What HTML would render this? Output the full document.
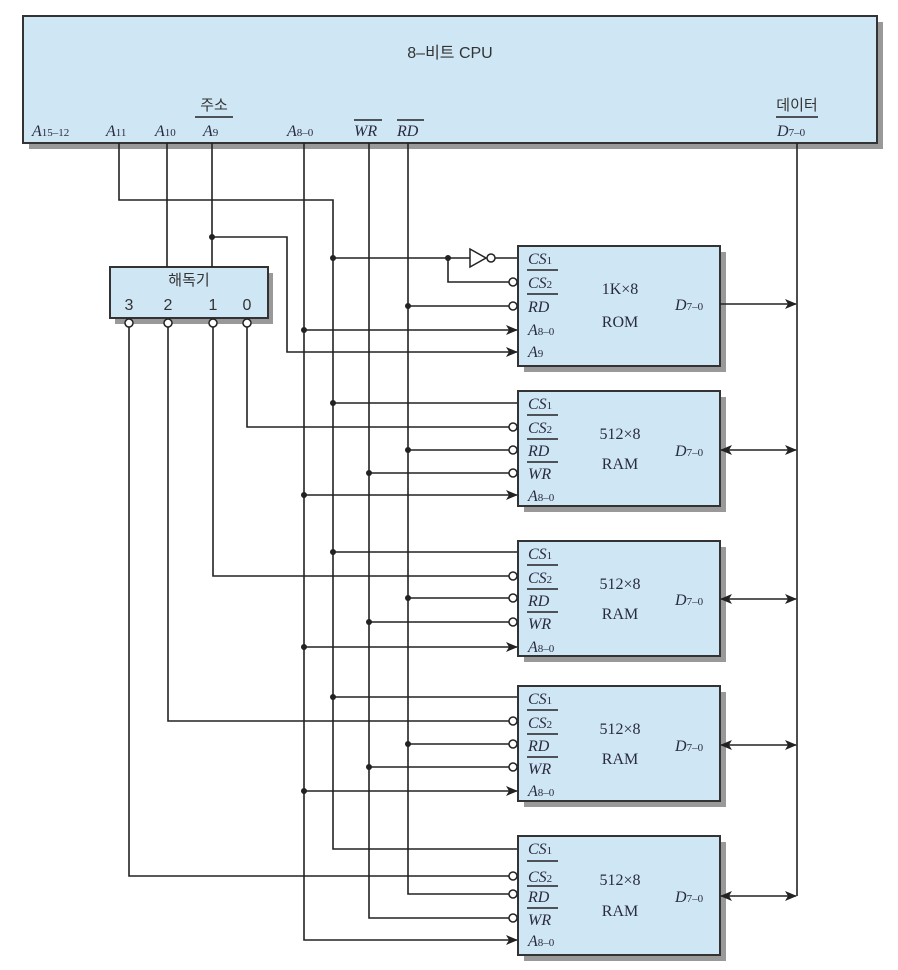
<!DOCTYPE html>
<html><head><meta charset="utf-8"><style>
html,body{margin:0;padding:0;background:#fff;}
svg{display:block;}
.l{stroke:#222;stroke-width:1.6;fill:none;}
.b{fill:#cfe7f5;stroke:#333;stroke-width:2;}
.s{fill:#999;}
.t{font-family:"Liberation Serif",serif;font-size:16px;fill:#2a2a40;}
.i{font-style:italic;}
.k{font-family:"Liberation Sans","Noto Sans CJK KR",sans-serif;font-size:15px;fill:#333;}
.bub{fill:#fff;stroke:#222;stroke-width:1.5;}
</style></head><body>
<svg width="898" height="970" viewBox="0 0 898 970" xmlns="http://www.w3.org/2000/svg">
<defs>
<marker id="ar" markerWidth="12" markerHeight="10" refX="11" refY="5" orient="auto" markerUnits="userSpaceOnUse"><path d="M0,0 L12,5 L0,10 L3,5 Z" fill="#222"/></marker>
<marker id="al" markerWidth="12" markerHeight="10" refX="1" refY="5" orient="auto" markerUnits="userSpaceOnUse"><path d="M12,0 L0,5 L12,10 L9,5 Z" fill="#222"/></marker>
</defs>

<!-- CPU -->
<rect class="s" x="29" y="22" width="854" height="127"/>
<rect class="b" x="23" y="16" width="854" height="127"/>
<text class="k" x="450" y="58" text-anchor="middle" style="font-size:16px">8–비트 CPU</text>
<text class="k" x="214" y="110" text-anchor="middle">주소</text>
<line class="l" x1="195" y1="117" x2="233" y2="117"/>
<text class="k" x="797" y="110" text-anchor="middle">데이터</text>
<line class="l" x1="776" y1="117" x2="818" y2="117"/>
<text class="t i" x="32" y="136">A<tspan font-size="11" font-style="normal">15–12</tspan></text>
<text class="t i" x="106" y="136">A<tspan font-size="11" font-style="normal">11</tspan></text>
<text class="t i" x="155" y="136">A<tspan font-size="11" font-style="normal">10</tspan></text>
<text class="t i" x="203" y="136">A<tspan font-size="11" font-style="normal">9</tspan></text>
<text class="t i" x="287" y="136">A<tspan font-size="11" font-style="normal">8–0</tspan></text>
<text class="t i" x="354" y="136">WR</text><line class="l" x1="354" y1="120" x2="382" y2="120"/>
<text class="t i" x="397" y="136">RD</text><line class="l" x1="397" y1="120" x2="424" y2="120"/>
<text class="t i" x="777" y="136">D<tspan font-size="11" font-style="normal">7–0</tspan></text>

<!-- Decoder -->
<rect class="s" x="115" y="273" width="158" height="51"/>
<rect class="b" x="110" y="267" width="158" height="51"/>
<text class="k" x="189" y="285" text-anchor="middle">해독기</text>
<text class="k" x="129" y="310" text-anchor="middle" style="font-size:16px">3</text>
<text class="k" x="168" y="310" text-anchor="middle" style="font-size:16px">2</text>
<text class="k" x="213" y="310" text-anchor="middle" style="font-size:16px">1</text>
<text class="k" x="247" y="310" text-anchor="middle" style="font-size:16px">0</text>

<!-- wires from CPU -->
<polyline class="l" points="119,143 119,200 333,200 333,849 518,849"/>
<line class="l" x1="167" y1="143" x2="167" y2="267"/>
<line class="l" x1="212" y1="143" x2="212" y2="267"/>
<polyline class="l" points="212,237 287,237 287,352 517,352" marker-end="url(#ar)"/>
<polyline class="l" points="304,143 304,940 517,940" marker-end="url(#ar)"/>
<polyline class="l" points="369,143 369,918 509,918"/>
<polyline class="l" points="408,143 408,894 509,894"/>
<line class="l" x1="797" y1="143" x2="797" y2="896"/>

<!-- decoder outputs -->
<polyline class="l" points="247,327 247,427 509,427"/>
<polyline class="l" points="213,327 213,576 509,576"/>
<polyline class="l" points="168,327 168,721 509,721"/>
<polyline class="l" points="129,327 129,876 509,876"/>
<circle class="bub" cx="129" cy="323" r="4"/><circle class="bub" cx="168" cy="323" r="4"/><circle class="bub" cx="213" cy="323" r="4"/><circle class="bub" cx="247" cy="323" r="4"/>

<!-- ROM -->
<line class="l" x1="333" y1="258" x2="470" y2="258"/>
<polyline class="l" points="448,258 448,282 509,282"/>
<path d="M470,249 L486,258 L470,267 Z" fill="#fff" stroke="#222" stroke-width="1.5"/>
<circle class="bub" cx="491" cy="258" r="4"/>
<line class="l" x1="495" y1="258" x2="518" y2="258"/>
<line class="l" x1="408" y1="306" x2="509" y2="306"/>
<line class="l" x1="304" y1="330" x2="517" y2="330" marker-end="url(#ar)"/>
<rect class="s" x="524" y="252" width="202" height="120"/>
<rect class="b" x="518" y="246" width="202" height="120"/>
<circle class="bub" cx="513" cy="282" r="4"/><circle class="bub" cx="513" cy="306" r="4"/>
<text class="t i" x="528" y="264">CS<tspan font-size="11" font-style="normal">1</tspan></text>
<line class="l" x1="527" y1="270" x2="558" y2="270"/>
<text class="t i" x="528" y="288">CS<tspan font-size="11" font-style="normal">2</tspan></text>
<line class="l" x1="527" y1="294" x2="558" y2="294"/>
<text class="t i" x="528" y="312">RD</text>
<text class="t i" x="528" y="335">A<tspan font-size="11" font-style="normal">8–0</tspan></text>
<text class="t i" x="528" y="357">A<tspan font-size="11" font-style="normal">9</tspan></text>
<text class="t" x="620" y="294" text-anchor="middle">1K×8</text>
<text class="t" x="620" y="327" text-anchor="middle">ROM</text>
<text class="t i" x="675" y="310">D<tspan font-size="11" font-style="normal">7–0</tspan></text>
<line class="l" x1="720" y1="304" x2="796" y2="304" marker-end="url(#ar)"/>
<circle cx="333" cy="258" r="3" fill="#222"/><circle cx="448" cy="258" r="3" fill="#222"/>
<circle cx="212" cy="237" r="3" fill="#222"/><circle cx="408" cy="306" r="3" fill="#222"/><circle cx="304" cy="330" r="3" fill="#222"/>

<!-- RAM 1 (y0=391) -->
<g>
<line class="l" x1="333" y1="403" x2="518" y2="403"/>
<line class="l" x1="408" y1="450" x2="509" y2="450"/>
<line class="l" x1="369" y1="473" x2="509" y2="473"/>
<line class="l" x1="304" y1="495" x2="517" y2="495" marker-end="url(#ar)"/>
<rect class="s" x="524" y="397" width="202" height="115"/>
<rect class="b" x="518" y="391" width="202" height="115"/>
<circle class="bub" cx="513" cy="427" r="4"/><circle class="bub" cx="513" cy="450" r="4"/><circle class="bub" cx="513" cy="473" r="4"/>
<text class="t i" x="528" y="409">CS<tspan font-size="11" font-style="normal">1</tspan></text>
<line class="l" x1="527" y1="415" x2="558" y2="415"/>
<text class="t i" x="528" y="433">CS<tspan font-size="11" font-style="normal">2</tspan></text>
<line class="l" x1="527" y1="439" x2="558" y2="439"/>
<text class="t i" x="528" y="456">RD</text>
<line class="l" x1="527" y1="462" x2="558" y2="462"/>
<text class="t i" x="528" y="479">WR</text>
<text class="t i" x="528" y="501">A<tspan font-size="11" font-style="normal">8–0</tspan></text>
<text class="t" x="620" y="439" text-anchor="middle">512×8</text>
<text class="t" x="620" y="469" text-anchor="middle">RAM</text>
<text class="t i" x="675" y="456">D<tspan font-size="11" font-style="normal">7–0</tspan></text>
<line class="l" x1="721" y1="450" x2="796" y2="450" marker-start="url(#al)" marker-end="url(#ar)"/>
<circle cx="333" cy="403" r="3" fill="#222"/><circle cx="408" cy="450" r="3" fill="#222"/><circle cx="369" cy="473" r="3" fill="#222"/><circle cx="304" cy="495" r="3" fill="#222"/>
</g>

<!-- RAM 2 (y0=541) -->
<g>
<line class="l" x1="333" y1="552" x2="518" y2="552"/>
<line class="l" x1="408" y1="598" x2="509" y2="598"/>
<line class="l" x1="369" y1="622" x2="509" y2="622"/>
<line class="l" x1="304" y1="647" x2="517" y2="647" marker-end="url(#ar)"/>
<rect class="s" x="524" y="547" width="202" height="115"/>
<rect class="b" x="518" y="541" width="202" height="115"/>
<circle class="bub" cx="513" cy="576" r="4"/><circle class="bub" cx="513" cy="598" r="4"/><circle class="bub" cx="513" cy="622" r="4"/>
<text class="t i" x="528" y="559">CS<tspan font-size="11" font-style="normal">1</tspan></text>
<line class="l" x1="527" y1="565" x2="558" y2="565"/>
<text class="t i" x="528" y="583">CS<tspan font-size="11" font-style="normal">2</tspan></text>
<line class="l" x1="527" y1="589" x2="558" y2="589"/>
<text class="t i" x="528" y="606">RD</text>
<line class="l" x1="527" y1="612" x2="558" y2="612"/>
<text class="t i" x="528" y="629">WR</text>
<text class="t i" x="528" y="652">A<tspan font-size="11" font-style="normal">8–0</tspan></text>
<text class="t" x="620" y="589" text-anchor="middle">512×8</text>
<text class="t" x="620" y="619" text-anchor="middle">RAM</text>
<text class="t i" x="675" y="605">D<tspan font-size="11" font-style="normal">7–0</tspan></text>
<line class="l" x1="721" y1="599" x2="796" y2="599" marker-start="url(#al)" marker-end="url(#ar)"/>
<circle cx="333" cy="552" r="3" fill="#222"/><circle cx="408" cy="598" r="3" fill="#222"/><circle cx="369" cy="622" r="3" fill="#222"/><circle cx="304" cy="647" r="3" fill="#222"/>
</g>

<!-- RAM 3 (y0=686) -->
<g>
<line class="l" x1="333" y1="697" x2="518" y2="697"/>
<line class="l" x1="408" y1="744" x2="509" y2="744"/>
<line class="l" x1="369" y1="767" x2="509" y2="767"/>
<line class="l" x1="304" y1="791" x2="517" y2="791" marker-end="url(#ar)"/>
<rect class="s" x="524" y="692" width="202" height="115"/>
<rect class="b" x="518" y="686" width="202" height="115"/>
<circle class="bub" cx="513" cy="721" r="4"/><circle class="bub" cx="513" cy="744" r="4"/><circle class="bub" cx="513" cy="767" r="4"/>
<text class="t i" x="528" y="704">CS<tspan font-size="11" font-style="normal">1</tspan></text>
<line class="l" x1="527" y1="710" x2="558" y2="710"/>
<text class="t i" x="528" y="728">CS<tspan font-size="11" font-style="normal">2</tspan></text>
<line class="l" x1="527" y1="734" x2="558" y2="734"/>
<text class="t i" x="528" y="751">RD</text>
<line class="l" x1="527" y1="757" x2="558" y2="757"/>
<text class="t i" x="528" y="774">WR</text>
<text class="t i" x="528" y="796">A<tspan font-size="11" font-style="normal">8–0</tspan></text>
<text class="t" x="620" y="734" text-anchor="middle">512×8</text>
<text class="t" x="620" y="764" text-anchor="middle">RAM</text>
<text class="t i" x="675" y="751">D<tspan font-size="11" font-style="normal">7–0</tspan></text>
<line class="l" x1="721" y1="745" x2="796" y2="745" marker-start="url(#al)" marker-end="url(#ar)"/>
<circle cx="333" cy="697" r="3" fill="#222"/><circle cx="408" cy="744" r="3" fill="#222"/><circle cx="369" cy="767" r="3" fill="#222"/><circle cx="304" cy="791" r="3" fill="#222"/>
</g>

<!-- RAM 4 (y0=836) -->
<g>
<rect class="s" x="524" y="842" width="202" height="119"/>
<rect class="b" x="518" y="836" width="202" height="119"/>
<circle class="bub" cx="513" cy="876" r="4"/><circle class="bub" cx="513" cy="894" r="4"/><circle class="bub" cx="513" cy="918" r="4"/>
<text class="t i" x="528" y="854">CS<tspan font-size="11" font-style="normal">1</tspan></text>
<line class="l" x1="527" y1="861" x2="558" y2="861"/>
<text class="t i" x="528" y="882">CS<tspan font-size="11" font-style="normal">2</tspan></text>
<line class="l" x1="527" y1="886" x2="558" y2="886"/>
<text class="t i" x="528" y="902">RD</text>
<line class="l" x1="527" y1="908" x2="558" y2="908"/>
<text class="t i" x="528" y="925">WR</text>
<text class="t i" x="528" y="946">A<tspan font-size="11" font-style="normal">8–0</tspan></text>
<text class="t" x="620" y="885" text-anchor="middle">512×8</text>
<text class="t" x="620" y="916" text-anchor="middle">RAM</text>
<text class="t i" x="675" y="902">D<tspan font-size="11" font-style="normal">7–0</tspan></text>
<line class="l" x1="721" y1="896" x2="796" y2="896" marker-start="url(#al)" marker-end="url(#ar)"/>
</g>
</svg>
</body></html>
